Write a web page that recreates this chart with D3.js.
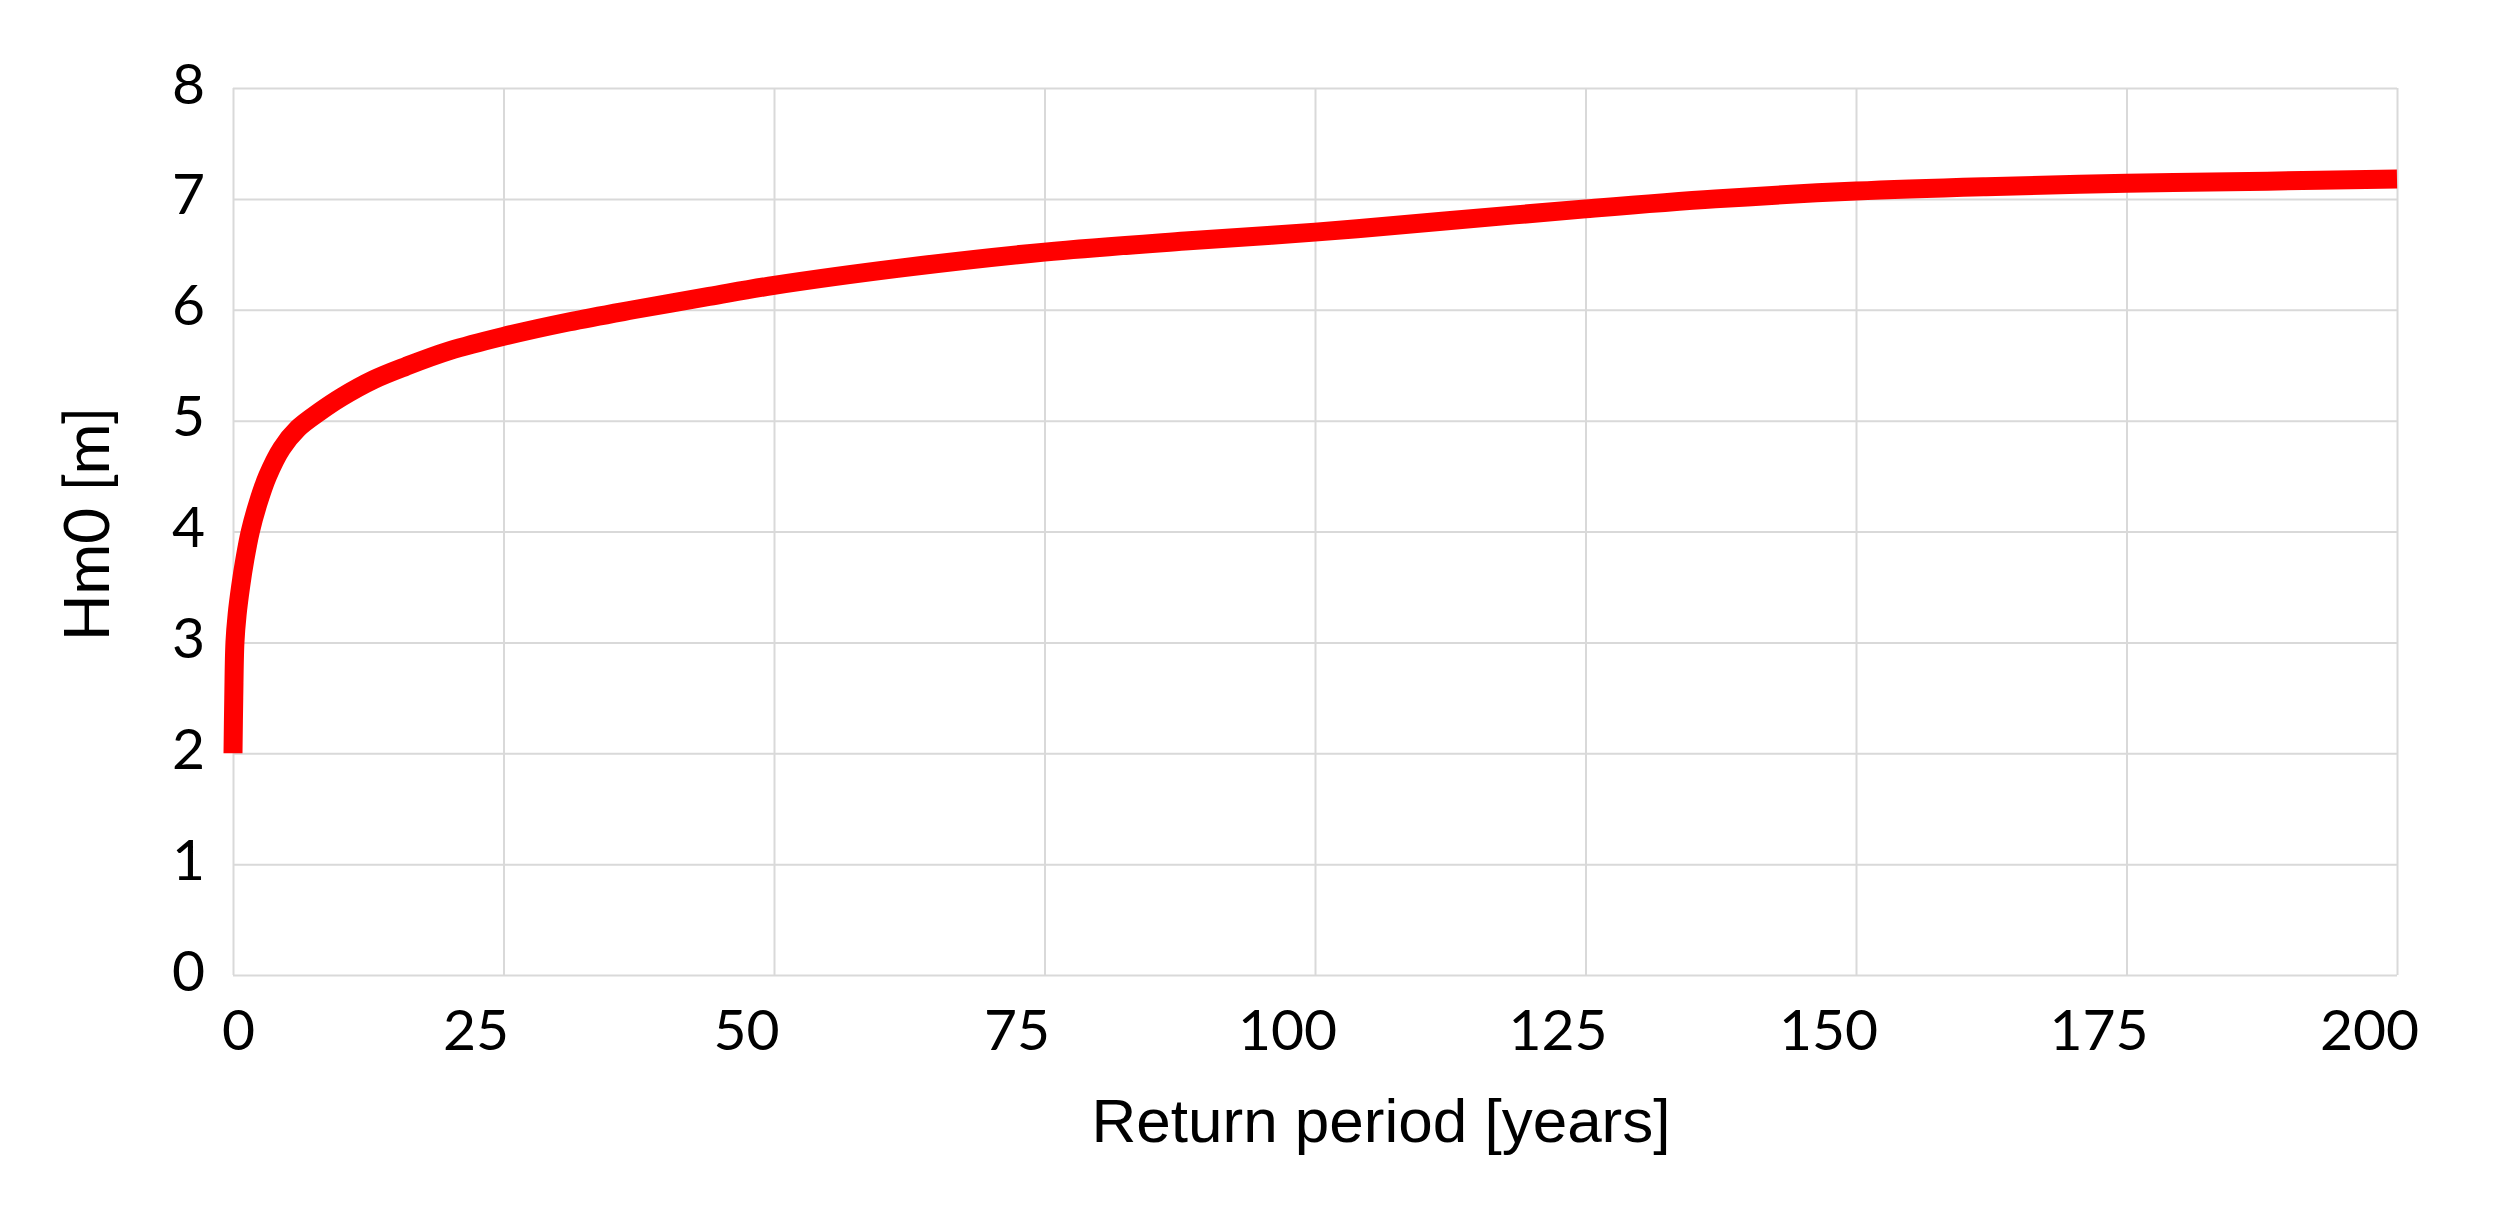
<!DOCTYPE html>
<html>
<head>
<meta charset="utf-8">
<script src="https://cdn.jsdelivr.net/npm/d3@7"></script>
<style>
  body { margin: 0; background: #fff; }
</style>
</head>
<body>
<div id="chart"></div>
<script>
// return period [years] and Hm0 [m]
const returnPeriod = [0, 0.07, 0.18, 0.38, 0.7, 1.1, 1.6, 2.3, 3.2, 4.5, 6, 8, 10, 13, 16, 20, 25, 31, 37, 44, 50, 62, 75, 88, 100, 112, 125, 137, 150, 162, 175, 188, 200];
const hm0 = [2.0, 2.5, 3.0, 3.25, 3.5, 3.75, 4.0, 4.25, 4.5, 4.75, 4.93, 5.08, 5.21, 5.37, 5.49, 5.63, 5.76, 5.89, 6.0, 6.12, 6.22, 6.38, 6.52, 6.62, 6.70, 6.80, 6.91, 7.0, 7.07, 7.11, 7.14, 7.16, 7.18];
const xTicks = [0, 25, 50, 75, 100, 125, 150, 175, 200];
const yTicks = [0, 1, 2, 3, 4, 5, 6, 7, 8];

const data = returnPeriod.map((t, i) => ({ t: t, h: hm0[i] }));

const margin = { top: 88, right: 102, bottom: 249, left: 233 };
const width = 2499 - margin.left - margin.right;
const height = 1224 - margin.top - margin.bottom;

const svg = d3.select('#chart')
    .append('svg')
    .attr('width', width + margin.left + margin.right)
    .attr('height', height + margin.top + margin.bottom)
    .style('background', '#fff')
    .append('g')
    .attr('transform', `translate(${margin.left},${margin.top})`);

const xScale = d3.scaleLinear()
    .domain([0, 200])
    .range([0, width]);

const yScale = d3.scaleLinear()
    .domain([0, 8])
    .range([height, 0]);

// gridlines
svg.append('g')
    .attr('class', 'y-grid')
    .call(d3.axisLeft(yScale).tickValues(yTicks).tickSize(-width).tickFormat(''))
    .call(g => g.select('.domain').remove())
    .call(g => g.selectAll('line').attr('stroke', '#d9d9d9').attr('stroke-width', 2));

svg.append('g')
    .attr('class', 'x-grid')
    .attr('transform', `translate(0,${height})`)
    .call(d3.axisBottom(xScale).tickValues(xTicks).tickSize(-height).tickFormat(''))
    .call(g => g.select('.domain').remove())
    .call(g => g.selectAll('line').attr('stroke', '#d9d9d9').attr('stroke-width', 2));

// tick labels
svg.append('g')
    .attr('class', 'x-axis')
    .attr('transform', `translate(0,${height})`)
    .call(d3.axisBottom(xScale).tickValues(xTicks).tickSize(0).tickPadding(0))
    .call(g => g.select('.domain').remove())
    .call(g => g.selectAll('text')
        .attr('y', 75)
        .attr('dy', null)
        .attr('dx', d => d === 0 ? 5 : -28)
        .style('font-family', 'Lato, "Open Sans", sans-serif')
        .style('font-size', '57px')
        .style('fill', '#000'));

svg.append('g')
    .attr('class', 'y-axis')
    .call(d3.axisLeft(yScale).tickValues(yTicks).tickSize(0).tickPadding(0))
    .call(g => g.select('.domain').remove())
    .call(g => g.selectAll('text')
        .attr('x', -28)
        .attr('dy', null)
        .attr('y', 15)
        .style('font-family', 'Lato, "Open Sans", sans-serif')
        .style('font-size', '57px')
        .style('fill', '#000'));

// axis titles
svg.append('g')
    .attr('class', 'x-axis-label')
    .attr('transform', `translate(${1381 - margin.left},${1142 - margin.top})`)
    .append('text')
    .text('Return period [years]')
    .style('text-anchor', 'middle')
    .style('font-family', '"Liberation Sans", Arial, sans-serif')
    .style('font-size', '62px')
    .style('fill', '#000');

svg.append('g')
    .attr('class', 'y-axis-label')
    .attr('transform', `translate(${109 - margin.left},${524 - margin.top}) rotate(-90)`)
    .append('text')
    .text('Hm0 [m]')
    .style('text-anchor', 'middle')
    .style('font-family', 'Lato, "Open Sans", sans-serif')
    .style('font-size', '62px')
    .style('fill', '#000');

// the curve
const line = d3.line()
    .x(d => xScale(d.t))
    .y(d => yScale(d.h))
    .curve(d3.curveCatmullRom.alpha(0.5));

svg.append('path')
    .datum(data)
    .attr('class', 'curve')
    .attr('d', line)
    .attr('fill', 'none')
    .attr('stroke', '#ff0000')
    .attr('stroke-width', 19)
    .attr('stroke-linejoin', 'round')
    .attr('stroke-linecap', 'butt');
</script>
</body>
</html>
